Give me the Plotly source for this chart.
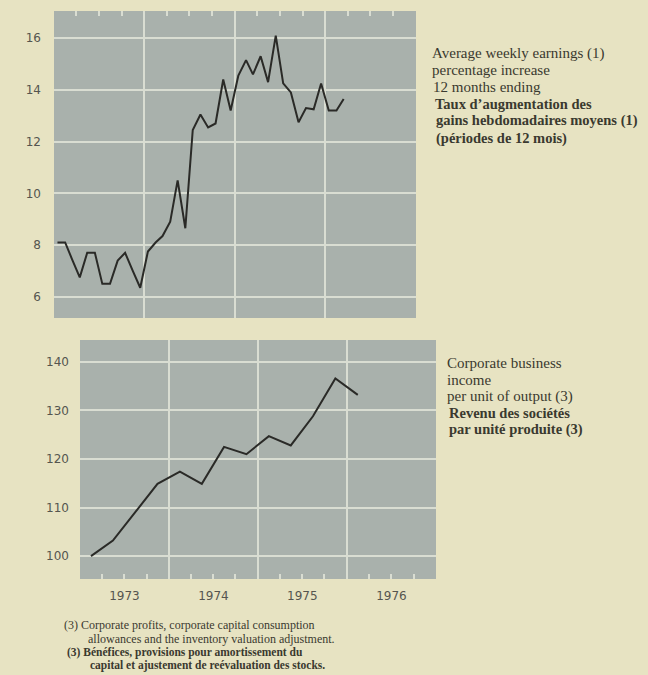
import plotly.graph_objects as go
import pandas as pd

W, H = 648, 675

# ---- data ----
earn_start = "1973-01-01"
earnings = [8.1, 8.1, 7.45, 6.75, 7.7, 7.7, 6.5, 6.5, 7.4, 7.7, 7.0, 6.35,
            7.75, 8.1, 8.35, 8.9, 10.5, 8.65, 12.45, 13.05, 12.55, 12.7, 14.4, 13.2,
            14.55, 15.15, 14.6, 15.3, 14.3, 16.1, 14.25, 13.9, 12.75, 13.3, 13.25, 14.25,
            13.2, 13.2, 13.65]
income_start = "1973-01-01"
income = [100, 103.2, 109.0, 114.9, 117.4, 114.9, 122.5, 121.0, 124.7, 122.8,
          128.8, 136.6, 133.2]
earn_ticks = [6, 8, 10, 12, 14, 16]
income_ticks = [100, 110, 120, 130, 140]

months = pd.date_range(earn_start, periods=len(earnings), freq="MS") + pd.Timedelta(days=14)
quarters = pd.date_range(income_start, periods=len(income), freq="QS") + pd.Timedelta(days=45)

top_text = [("Average weekly earnings (1)", False),
            ("percentage increase", False),
            ("12 months ending", False),
            ("Taux d\u2019augmentation des", True),
            ("gains hebdomadaires moyens (1)", True),
            ("(p\u00e9riodes de 12 mois)", True)]
bottom_text = [("Corporate business", False),
               ("income", False),
               ("per unit of output (3)", False),
               ("Revenu des soci\u00e9t\u00e9s", True),
               ("par unit\u00e9 produite (3)", True)]
notes = [("(3) Corporate profits, corporate capital consumption", False),
         ("allowances and the inventory valuation adjustment.", False),
         ("(3) B\u00e9n\u00e9fices, provisions pour amortissement du", True),
         ("capital et ajustement de re\u00e9valuation des stocks.", True)]

# ---- style ----
PAPER = "#e7e3c2"
PANEL = "#a9b1ac"
GRID = "#d9ddd2"
LINE = "#2a2a27"
TICKC = "#55554f"
TXT = "#3a392f"
XRANGE = ["1973-01-01", "1977-01-01"]


def dx(a, b):
    return [a / W, b / W]


def dy(top, bottom):
    return [1 - bottom / H, 1 - top / H]


fig = go.Figure()
fig.add_trace(go.Scatter(x=months, y=earnings, mode="lines",
                         line=dict(color=LINE, width=2), xaxis="x", yaxis="y",
                         hoverinfo="skip"))
fig.add_trace(go.Scatter(x=quarters, y=income, mode="lines",
                         line=dict(color=LINE, width=2), xaxis="x2", yaxis="y2",
                         hoverinfo="skip"))

tickfont = dict(family="DejaVu Sans", size=12, color=TICKC)
minor = dict(dtick="M3", tick0="1973-01-01", ticks="inside", ticklen=5,
             tickcolor=GRID, tickwidth=1.5, showgrid=False)

fig.update_layout(
    width=W, height=H,
    margin=dict(l=0, r=0, t=0, b=0),
    paper_bgcolor=PAPER, plot_bgcolor=PANEL,
    showlegend=False,
    xaxis=dict(domain=dx(54, 416), anchor="y", type="date", range=XRANGE,
               side="top", showticklabels=False, dtick="M12", tick0="1973-01-01",
               showgrid=True, gridcolor=GRID, gridwidth=1.5, ticks="",
               zeroline=False, showline=False, minor=minor),
    yaxis=dict(domain=dy(11, 318), anchor="x", range=[5.18, 17.05],
               tickvals=earn_ticks, showgrid=True, gridcolor=GRID, gridwidth=1.5,
               ticks="", zeroline=False, showline=False, tickfont=tickfont,
               ticklabelstandoff=12),
    xaxis2=dict(domain=dx(80, 436), anchor="y2", type="date", range=XRANGE,
                dtick="M12", tick0="1973-01-01", ticklabelmode="period",
                tickformat="%Y", showgrid=True, gridcolor=GRID, gridwidth=1.5,
                ticks="", zeroline=False, showline=False, tickfont=tickfont,
                ticklabelstandoff=8, minor=minor),
    yaxis2=dict(domain=dy(340, 579), anchor="x2", range=[95.3, 144.5],
                tickvals=income_ticks, showgrid=True, gridcolor=GRID, gridwidth=1.5,
                ticks="", zeroline=False, showline=False, tickfont=tickfont,
                ticklabelstandoff=10),
)

ann = []


def add_lines(lines, x0s, ys, size, bsize):
    for (t, bold), x0, y0 in zip(lines, x0s, ys):
        ann.append(dict(text=f"<b>{t}</b>" if bold else t, x=x0 / W, y=1 - y0 / H,
                        xref="paper", yref="paper", xanchor="left", yanchor="middle",
                        showarrow=False, borderpad=0,
                        font=dict(family="Liberation Serif", size=bsize if bold else size,
                                  color=TXT)))


add_lines(top_text, [431, 431, 432, 434, 435, 435], [53, 70, 87, 104, 121, 138], 15, 14.5)
add_lines(bottom_text, [446, 446, 446, 448, 448], [363, 380, 396.5, 413, 429.5], 15, 14.5)
add_lines(notes, [63, 87, 66, 89], [625, 638.5, 652, 665.5], 12, 11.5)

fig.update_layout(annotations=ann)
fig.write_html("out.html",
               config={"displayModeBar": False},
               post_script="document.body.style.margin='0';"
                           "document.body.style.background='" + PAPER + "';")
